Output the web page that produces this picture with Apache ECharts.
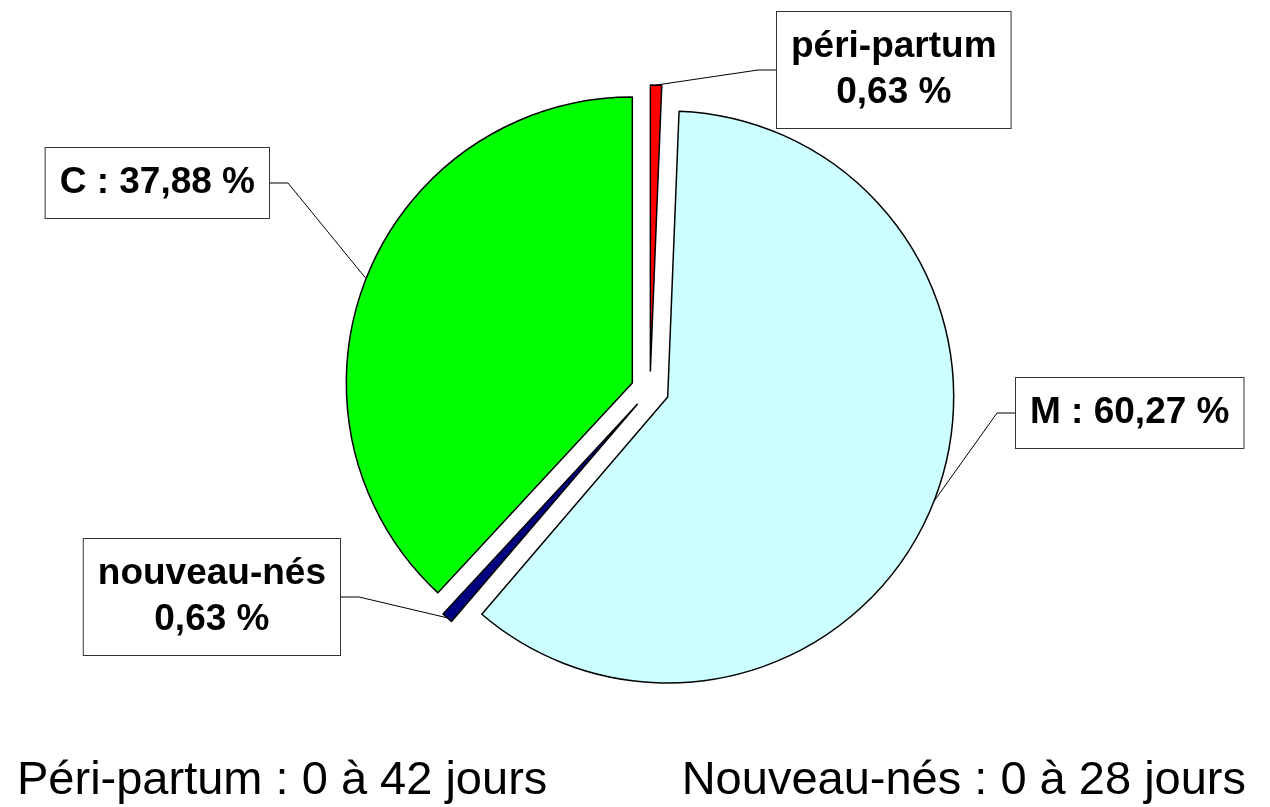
<!DOCTYPE html>
<html>
<head>
<meta charset="utf-8">
<script src="https://cdn.jsdelivr.net/npm/echarts@6/dist/echarts.min.js"></script>
<style>
html,body{margin:0;padding:0;background:#fff;}
#chart{width:1270px;height:807px;}
</style>
</head>
<body>
<div id="chart"></div>
<script>
// ---- data ----
const categories = ['péri-partum', 'M', 'nouveau-nés', 'C'];
const values = [0.63, 60.27, 0.63, 37.88];
const labelTexts = ['péri-partum\n0,63 %', 'M : 60,27 %', 'nouveau-nés\n0,63 %', 'C : 37,88 %'];
const sliceColors = ['#ff0000', '#ccffff', '#000080', '#00ff00'];
const notes = ['Péri-partum : 0 à 42 jours', 'Nouveau-nés : 0 à 28 jours'];

// ---- layout ----
const PIE_CENTER = [650, 390];
const PIE_RADIUS = 286;
const EXPLODE = 19;
// label box anchor: edge x (left or right edge of the box) and vertical middle
const labelBoxes = [
  { x: 776, y: 70, side: 'left' },
  { x: 1015, y: 413, side: 'left' },
  { x: 341, y: 597, side: 'right' },
  { x: 270, y: 183, side: 'right' }
];
const FONT = "'Liberation Sans', Arial, Helvetica, sans-serif";

const chart = echarts.init(document.getElementById('chart'), null, { renderer: 'canvas' });

const total = values.reduce((a, b) => a + b, 0);
let cum = 0;
const series = categories.map((name, i) => {
  const mid = (cum + values[i] / 2) / total * Math.PI * 2;
  cum += values[i];
  const cx = PIE_CENTER[0] + Math.sin(mid) * EXPLODE;
  const cy = PIE_CENTER[1] - Math.cos(mid) * EXPLODE;
  return {
    type: 'pie',
    name: name,
    center: [cx, cy],
    radius: PIE_RADIUS,
    startAngle: 90,
    clockwise: true,
    avoidLabelOverlap: false,
    silent: true,
    emphasis: { disabled: true },
    label: {
      show: true,
      position: 'outside',
      fontFamily: FONT,
      fontSize: 37,
      fontWeight: 'bold',
      color: '#000',
      lineHeight: 46,
      align: 'center',
      backgroundColor: '#fff',
      borderColor: '#333',
      borderWidth: 1,
      padding: [12, 14]
    },
    labelLine: {
      show: true,
      length: 20,
      length2: 18,
      lineStyle: { color: '#000', width: 1 }
    },
    labelLayout: function (p) {
      if (p.dataIndex !== i) return {};
      const b = labelBoxes[i];
      const w = p.labelRect.width;
      const x = b.side === 'left' ? b.x + w / 2 : b.x - w / 2;
      return { x: x, y: b.y, align: 'center', verticalAlign: 'middle' };
    },
    data: categories.map((n, j) => j === i ? {
      name: n,
      value: values[j],
      itemStyle: { color: sliceColors[j], borderColor: '#000', borderWidth: 1.5 },
      label: { formatter: labelTexts[j] }
    } : {
      name: n,
      value: values[j],
      itemStyle: { color: 'rgba(0,0,0,0)', borderWidth: 0 },
      label: { show: false },
      labelLine: { show: false }
    })
  };
});

chart.setOption({
  animation: false,
  backgroundColor: '#ffffff',
  title: [
    { text: notes[0], left: 12, top: 753,
      textStyle: { fontFamily: FONT, fontSize: 47, fontWeight: 'normal', color: '#000' } },
    { text: notes[1], right: 19, top: 753,
      textStyle: { fontFamily: FONT, fontSize: 47, fontWeight: 'normal', color: '#000' } }
  ],
  series: series
});
</script>
</body>
</html>
